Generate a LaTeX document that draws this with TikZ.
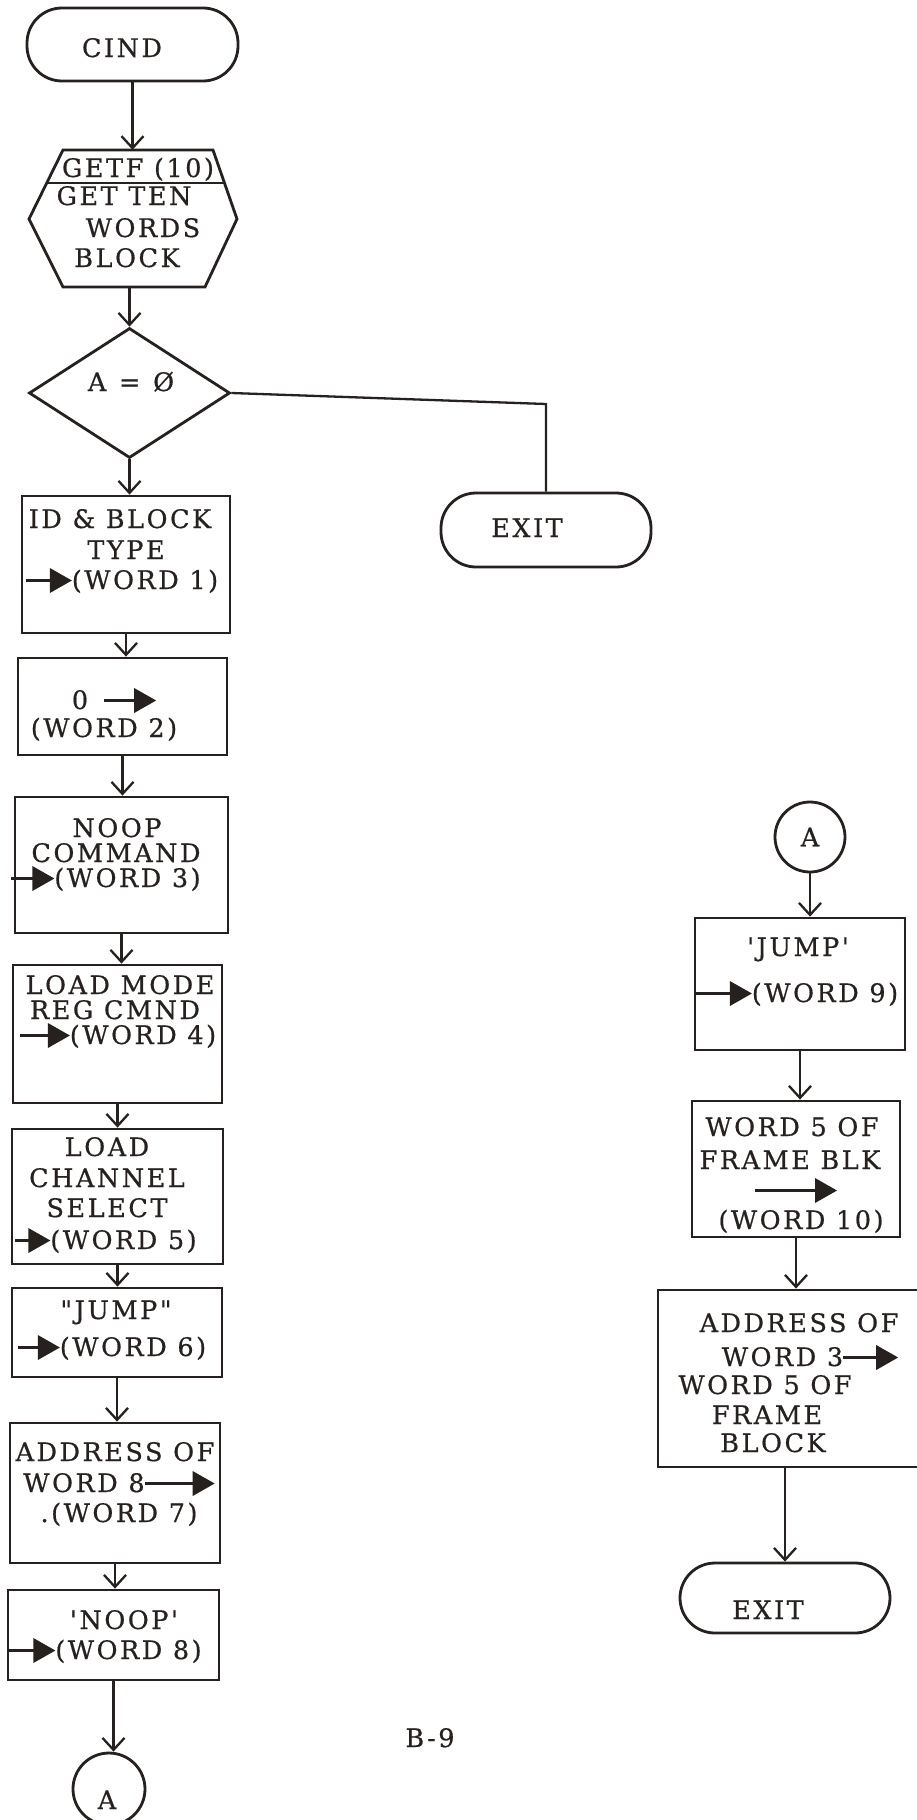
\documentclass[tikz,border=0pt]{standalone}
\usepackage{fontspec}
\usetikzlibrary{shapes.geometric,arrows.meta,calc}
\newfontfamily\dvs{DejaVu Serif}[Ligatures=TeXOff,LetterSpace=10,FakeBold=0.6]
\definecolor{ink}{RGB}{38,33,30}
\newcommand\arw[1]{\tikz[baseline=-8.5pt,x=1pt,y=1pt]{\fill[ink] (0,-1.7) rectangle ({#1-16},1.7); \fill[ink] ({#1-22},-12.5) -- (#1,0) -- ({#1-22},12.5) -- cycle;}}
\begin{document}
\begin{tikzpicture}[x=1pt,y=-1pt,
  shp/.style={draw=ink, line width=2.8pt, inner sep=0pt},
  blk/.style={shp, rectangle},
  term/.style={shp, rounded corners=35pt},
  outline/.style={draw=ink, line width=2.8pt, line join=miter},
  conn/.style={draw=ink, line width=2.3pt, -{Straight Barb[length=12pt,width=22pt]}},
  plain/.style={draw=ink, line width=2.3pt},
  txt/.style={inner sep=0pt, anchor=base, text=ink, font=\dvs\fontsize{25.5pt}{30pt}\selectfont}]
\useasboundingbox (0,0) rectangle (917,1820);
\clip (0,0) rectangle (917,1820);
\fill[white] (0,0) rectangle (917,1820);

% ---------- left column ----------
\node[term, minimum width=211pt, minimum height=73pt] (cind) at (132.5,44.5) {};
\node[txt] (tcind) at (122,57) {CIND};

\node[inner sep=0pt, minimum width=208pt, minimum height=137pt] (getf) at (133,218.5) {};
\draw[outline] (63,150) -- (213,150) -- (237,219) -- (205,287) -- (63,287) -- (29,219) -- cycle;
\draw[outline] (46.5,183) -- (224.5,183);
\node[txt] (tg1) at (138,177) {GETF (10)};
\node[txt] (tg2) at (124,205) {GET TEN};
\node[txt] (tg3) at (143,237) {WORDS};
\node[txt] (tg4) at (127,267) {BLOCK};

\node[shp, diamond, minimum width=201pt, minimum height=130pt] (dia) at (129.5,393) {};
\node[txt] (tdia) at (131,391) {A\enspace=\enspace Ø};

\node[term, minimum width=210pt, minimum height=74pt] (ex1) at (546,530) {};
\node[txt] (tex1) at (527,537) {EXIT};
\coordinate (cr) at (546,404);

\node[blk, minimum width=208pt, minimum height=137pt] (b1) at (126,564.5) {};
\node[txt] (t1a) at (120,528) {ID \& BLOCK};
\node[txt] (t1b) at (126,559) {TYPE};
\node[txt] (t1c) at (122,589) {\arw{46}(WORD 1)};

\node[blk, minimum width=209pt, minimum height=97pt] (b2) at (122.5,706.5) {};
\node[txt] (t2a) at (114,709) {0\hspace{16pt}\arw{52}};
\node[txt] (t2b) at (104,737) {(WORD 2)};

\node[blk, minimum width=213pt, minimum height=136pt] (b3) at (121.5,865) {};
\node[txt] (t3a) at (117,837) {NOOP};
\node[txt] (t3b) at (116,862) {COMMAND};
\node[txt] (t3c) at (106,887) {\arw{43}(WORD 3)};

\node[blk, minimum width=209pt, minimum height=138pt] (b4) at (117.5,1034) {};
\node[txt] (t4a) at (120,994) {LOAD MODE};
\node[txt] (t4b) at (115,1019) {REG CMND};
\node[txt] (t4c) at (118,1044) {\arw{50}(WORD 4)};

\node[blk, minimum width=211pt, minimum height=135pt] (b5) at (117.5,1196.5) {};
\node[txt] (t5a) at (107,1156) {LOAD};
\node[txt] (t5b) at (107,1187) {CHANNEL};
\node[txt] (t5c) at (107,1217) {SELECT};
\node[txt] (t5d) at (106,1249) {\arw{35}(WORD 5)};

\node[blk, minimum width=210pt, minimum height=89pt] (b6) at (117,1332.5) {};
\node[txt] (t6a) at (116,1319) {"JUMP"};
\node[txt] (t6b) at (112,1356) {\arw{42}(WORD 6)};

\node[blk, minimum width=210pt, minimum height=140pt] (b7) at (115,1493) {};
\node[txt] (t7a) at (115,1461) {ADDRESS OF};
\node[txt] (t7b) at (119,1492) {WORD 8\arw{70}};
\node[txt] (t7c) at (119,1522) {.(WORD 7)};

\node[blk, minimum width=211pt, minimum height=90pt] (b8) at (113.5,1635) {};
\node[txt] (t8a) at (124,1629) {'NOOP'};
\node[txt] (t8b) at (105,1659) {\arw{47}(WORD 8)};

\node[shp, circle, minimum size=72pt] (a1) at (109,1789) {};
\node[txt] (ta1) at (107,1809) {A};

\node[txt] (pg) at (430,1747) {B-9};

% ---------- right column ----------
\node[shp, circle, minimum size=70pt, text=ink, font=\dvs\fontsize{25.5pt}{30pt}\selectfont] (a2) at (810,837) {A};

\node[blk, minimum width=210pt, minimum height=132pt] (b9) at (800,984) {};
\node[txt] (t9a) at (798,956) {'JUMP'};
\node[txt] (t9b) at (796,1002) {\arw{58}(WORD 9)};

\node[blk, minimum width=208pt, minimum height=136pt] (b10) at (796,1169) {};
\node[txt] (t10a) at (792,1136) {WORD 5 OF};
\node[txt] (t10b) at (790,1169) {FRAME BLK};
\node[txt] (t10c) at (796,1199) {\arw{82}};
\node[txt] (t10d) at (801,1229) {(WORD 10)};

\node[blk, minimum width=272pt, minimum height=177pt] (b11) at (794,1378.5) {};
\node[txt] (t11a) at (799,1332) {ADDRESS OF};
\node[txt] (t11b) at (810,1366) {WORD 3\arw{55}};
\node[txt] (t11c) at (765,1394) {WORD 5 OF};
\node[txt] (t11d) at (767,1424) {FRAME};
\node[txt] (t11e) at (773,1452) {BLOCK};

\node[term, minimum width=210pt, minimum height=70pt] (ex2) at (785,1598) {};
\node[txt] (tex2) at (768,1619) {EXIT};

% ---------- connectors ----------
\draw[conn] (cind.south) -- (cind.south |- getf.north);
\draw[conn] (getf.south -| dia.north) -- (dia.north);
\draw[plain] (dia.east) -- (cr) -- (ex1.north);
\draw[conn] (dia.south) -- (dia.south |- b1.north);
\draw[conn] (b1.south) -- (b1.south |- b2.north);
\draw[conn] (b2.south) -- (b2.south |- b3.north);
\draw[conn] (b3.south) -- (b3.south |- b4.north);
\draw[conn] (b4.south) -- (b4.south |- b5.north);
\draw[conn] (b5.south) -- (b5.south |- b6.north);
\draw[conn] (b6.south) -- (b6.south |- b7.north);
\draw[conn] (b7.south) -- (b7.south |- b8.north);
\draw[conn] (b8.south) -- (b8.south |- a1.north);
\draw[conn] (a2.south) -- (a2.south |- b9.north);
\draw[conn] (b9.south) -- (b9.south |- b10.north);
\draw[conn] (b10.south) -- (b10.south |- b11.north);
\draw[conn] (ex2.north |- b11.south) -- (ex2.north);
\end{tikzpicture}
\end{document}
